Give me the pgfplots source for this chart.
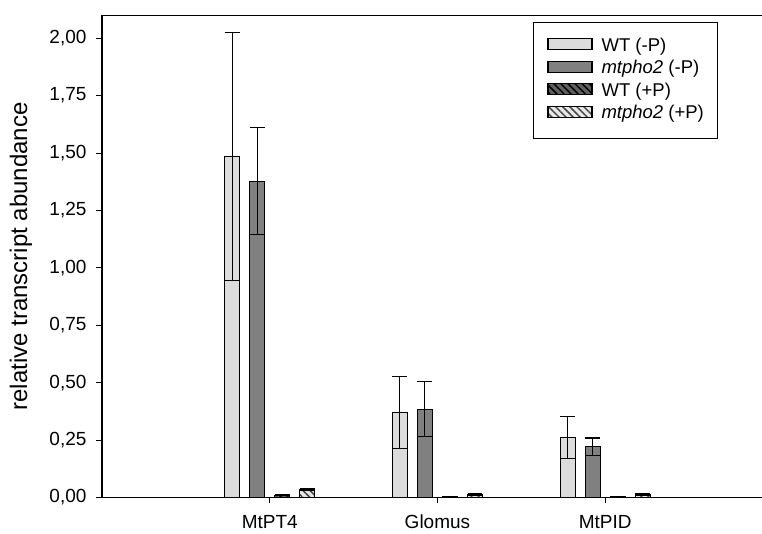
\documentclass[border=0pt]{standalone}
\usepackage{fontspec}
\setmainfont{Liberation Sans}
\usepackage{pgfplots}
\usepackage{pgfplotstable}
\pgfplotsset{compat=1.18}
\usetikzlibrary{patterns.meta}

\definecolor{wtminus}{RGB}{220,220,220}
\definecolor{mtminus}{RGB}{128,128,128}
\definecolor{wtplus}{RGB}{96,96,96}
\definecolor{mtplus}{RGB}{232,232,232}
\definecolor{hatchgray}{RGB}{70,70,70}

% mean and standard deviation per gene
\pgfplotstableread{
x y e
1 1.484 0.540
2 0.371 0.156
3 0.261 0.092
}\wtminusdata
\pgfplotstableread{
x y e
1 1.378 0.233
2 0.384 0.120
3 0.221 0.038
}\mtminusdata
\pgfplotstableread{
x y e
1 0.010 0.003
2 0.005 0.001
3 0.005 0.001
}\wtplusdata
\pgfplotstableread{
x y e
1 0.034 0.004
2 0.013 0.003
3 0.013 0.004
}\mtplusdata

\begin{document}
\begin{tikzpicture}
\begin{axis}[
  name=ax,
  at={(0,0)}, anchor=south west,
  scale only axis,
  width=660pt, height=482.2pt,
  xmin=0, xmax=3.935,
  ymin=0, ymax=2.1,
  axis x line=box, axis y line=left,
  x axis line style={-}, y axis line style={-},
  axis line style={line width=1.2pt, black},
  tick align=outside,
  major tick length=6pt,
  tick style={line width=1pt, black},
  xtick pos=bottom, ytick pos=left,
  xtick={1,2,3},
  xticklabels={MtPT4,Glomus,MtPID},
  ytick={0,0.25,0.5,0.75,1,1.25,1.5,1.75,2},
  /pgf/number format/use comma,
  /pgf/number format/fixed,
  /pgf/number format/fixed zerofill,
  /pgf/number format/precision=2,
  /pgf/number format/assume math mode=true,
  tick label style={font=\fontsize{19}{22}\selectfont},
  yticklabel style={xshift=-6pt},
  xticklabel style={yshift=-8pt},
  ylabel={relative transcript abundance},
  ylabel style={at={(axis description cs:-0.1227,0.5)}, anchor=center,
    font=\fontsize{24}{28}\selectfont},
  ybar,
  bar width=0.0894,
  error bars/y dir=both,
  error bars/y explicit,
  error bars/error mark=|,
  error bars/error bar style={line width=1.1pt, black},
  error bars/error mark options={line width=1.1pt, black, mark size=7.45pt},
  legend image code/.code={
    \draw[#1] (0pt,-3pt) rectangle (44pt,8pt);
  },
  legend cell align=left,
  legend style={
    at={(axis description cs:0.653,0.9867)}, anchor=north west,
    draw=black, line width=1pt,
    inner xsep=14pt, inner ysep=16pt,
    row sep=5.5pt, column sep=9pt,
    font=\fontsize{18.5}{22}\selectfont,
    nodes={inner sep=0pt, text height=13pt, text depth=4pt},
  },
]
\addplot[draw=black, line width=1.1pt, fill=wtminus, bar shift=-0.224]
  table[x=x, y=y, y error=e] {\wtminusdata};
\addlegendentry{WT (-P)}
\addplot[draw=black, line width=1.1pt, fill=mtminus, bar shift=-0.075]
  table[x=x, y=y, y error=e] {\mtminusdata};
\addlegendentry{\textit{mtpho2} (-P)}
\addplot[draw=black, line width=1.1pt, fill=wtplus, bar shift=0.075,
  postaction={pattern={Lines[angle=-45, distance=5pt, line width=1.5pt]}, pattern color=black}]
  table[x=x, y=y, y error=e] {\wtplusdata};
\addlegendentry{WT (+P)}
\addplot[draw=black, line width=1.1pt, fill=mtplus, bar shift=0.224,
  postaction={pattern={Lines[angle=-45, distance=5pt, line width=1.5pt]}, pattern color=hatchgray}]
  table[x=x, y=y, y error=e] {\mtplusdata};
\addlegendentry{\textit{mtpho2} (+P)}
\end{axis}
\pgfresetboundingbox
\path[use as bounding box] (-102pt,-36.5pt) rectangle (660pt,497.5pt);
\end{tikzpicture}
\end{document}
